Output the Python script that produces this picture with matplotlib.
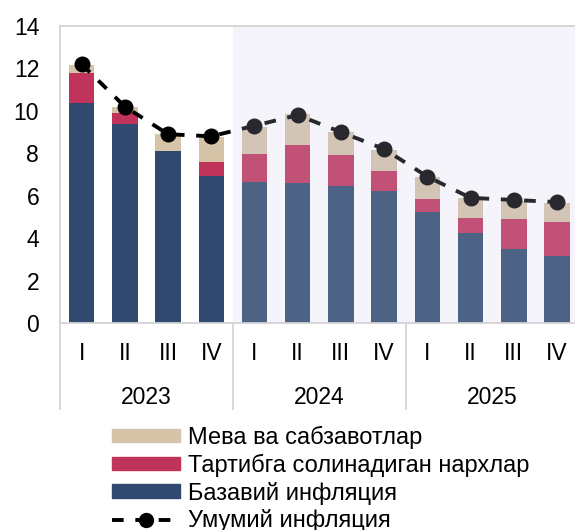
import matplotlib.pyplot as plt
from matplotlib.patches import Patch
from matplotlib.lines import Line2D

plt.rcParams['font.family'] = ['Liberation Sans', 'DejaVu Sans']

# chorak va yillar
choraklar = ['I', 'II', 'III', 'IV'] * 3
yillar = ['2023', '2024', '2025']

# komponentlar (foiz punktlari)
bazaviy = [10.38, 9.37, 8.13, 6.92, 6.66, 6.58, 6.44, 6.21, 5.21, 4.22, 3.51, 3.18]
tartibga = [1.39, 0.51, -0.10, 0.66, 1.31, 1.83, 1.50, 0.96, 0.65, 0.71, 1.37, 1.59]
meva = [0.39, 0.28, 0.80, 1.18, 1.28, 1.42, 1.07, 0.99, 1.01, 0.96, 0.89, 0.87]
umumiy = [12.2, 10.2, 8.9, 8.8, 9.3, 9.8, 9.0, 8.2, 6.9, 5.9, 5.8, 5.7]

c_baza = '#2F4A6E'
c_tart = '#C0335A'
c_meva = '#D6C4A9'

W, H = 575, 530
fig = plt.figure(figsize=(W / 100, H / 100), dpi=100)
x_left, x_right, y_top, y_bot = 60, 578.6, 26, 323
ax = fig.add_axes([x_left / W, (H - y_bot) / H, (x_right - x_left) / W, (y_bot - y_top) / H])

x = list(range(len(bazaviy)))
bw = 0.59
ax.bar(x, bazaviy, bw, color=c_baza, zorder=2)
# manfiy qiymat noldan pastga chiziladi
tart_bottom = [b if t >= 0 else 0 for b, t in zip(bazaviy, tartibga)]
ax.bar(x, tartibga, bw, bottom=tart_bottom, color=c_tart, zorder=2)
meva_bottom = [b + max(t, 0) for b, t in zip(bazaviy, tartibga)]
ax.bar(x, meva, bw, bottom=meva_bottom, color=c_meva, zorder=2)

ax.plot(x, umumiy, color='black', lw=2.8, linestyle=(0, (3, 3)),
        marker='o', markersize=10.5, zorder=4)

# 2024-2025 fon (ustidan yarim shaffof)
ax.axvspan(3.5, 11.5, color='#CACBE7', alpha=0.2, lw=0, zorder=6)

ax.set_xlim(-0.5, 11.5)
ax.set_ylim(0, 14)
ax.set_yticks(range(0, 15, 2))
ax.tick_params(axis='y', length=0, pad=15, labelsize=16.5)
ax.set_xticks([])

for s in ['left', 'top', 'bottom']:
    ax.spines[s].set_color('#D4D4D4')
    ax.spines[s].set_linewidth(1.3)
ax.spines['right'].set_visible(False)

# kategoriya o'qi
tr = ax.get_xaxis_transform()
for i, q in enumerate(choraklar):
    ax.text(i, -0.104, q, transform=tr, ha='center', va='center', fontsize=16.5)
for k, yl in enumerate(yillar):
    ax.text(4 * k + 1.5, -0.25, yl, transform=tr, ha='center', va='center', fontsize=16.5)
for xs in [-0.5, 3.5, 7.5]:
    ax.plot([xs, xs], [0, -0.29], transform=tr, color='#D4D4D4', lw=1.3, clip_on=False)

handles = [
    Patch(color=c_meva),
    Patch(color=c_tart),
    Patch(color=c_baza),
    Line2D([], [], color='black', lw=2.8, linestyle=(0, (3, 3)), marker='o', markersize=10),
]
labels = ['Мева ва сабзавотлар', 'Тартибга солинадиган нархлар', 'Базавий инфляция', 'Умумий инфляция']
fig.legend(handles, labels, loc='upper left', bbox_to_anchor=(100 / W, 1 - 414 / H),
           frameon=False, fontsize=17, handlelength=2.9, handleheight=0.5,
           handletextpad=0.34, labelspacing=0.2, borderpad=0)

fig.savefig('out.png', dpi=100)
